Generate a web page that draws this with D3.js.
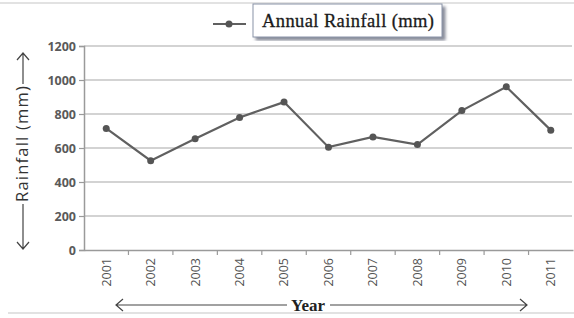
<!DOCTYPE html>
<html>
<head>
<meta charset="utf-8">
<script src="https://cdn.jsdelivr.net/npm/d3@7"></script>
<style>
  body { margin: 0; background: #fff; }
  svg { display: block; }
</style>
</head>
<body>
<svg id="chart" width="574" height="318"></svg>
<script>
// data
var years = ["2001", "2002", "2003", "2004", "2005", "2006", "2007", "2008", "2009", "2010", "2011"];
var rainfall = [715, 525, 655, 780, 870, 605, 665, 620, 820, 960, 705];
var yTicks = [0, 200, 400, 600, 800, 1000, 1200];

var svg = d3.select("#chart");
var margin = { left: 84, right: 1, top: 46, bottom: 68 };
var width = 574 - margin.left - margin.right,
  height = 318 - margin.top - margin.bottom;

var x = d3.scaleBand().domain(years).range([margin.left, margin.left + width]);
var y = d3.scaleLinear().domain([0, 1200]).range([margin.top + height, margin.top]);

var defs = svg.append("defs");
defs.append("filter").attr("id", "shadow")
  .append("feDropShadow")
  .attr("dx", 3).attr("dy", 3).attr("stdDeviation", 1.5)
  .attr("flood-color", "#6a7080").attr("flood-opacity", 0.8);

// frame lines at top and bottom
svg.append("line").attr("x1", 0).attr("x2", 574).attr("y1", 3).attr("y2", 3)
  .attr("stroke", "#d8d8d8").attr("stroke-width", 1.5);
svg.append("line").attr("x1", 8).attr("x2", 574).attr("y1", 313).attr("y2", 313)
  .attr("stroke", "#d8d8d8").attr("stroke-width", 1.5);

// gridlines
svg.append("g")
  .selectAll("line")
  .data(yTicks.slice(1))
  .enter()
  .append("line")
  .attr("x1", margin.left).attr("x2", 572)
  .attr("y1", function(d) { return y(d); })
  .attr("y2", function(d) { return y(d); })
  .attr("stroke", "#a8a8a8").attr("stroke-width", 1.2);

// y axis
var yAxis = svg.append("g")
  .attr("transform", "translate(" + margin.left + ",0)")
  .call(d3.axisLeft(y).tickValues(yTicks).tickFormat(d3.format("d")).tickSize(5).tickPadding(3));
yAxis.select(".domain").attr("stroke", "#9a9a9a").attr("stroke-width", 1.5);
yAxis.selectAll(".tick line").attr("stroke", "#9a9a9a").attr("stroke-width", 1.2);
yAxis.selectAll("text")
  .attr("font-family", "'Open Sans', sans-serif")
  .attr("font-size", 12.5).attr("font-weight", "bold").attr("fill", "#5a5a5a");

// x axis
var xAxis = svg.append("g")
  .attr("transform", "translate(0," + (margin.top + height) + ")")
  .call(d3.axisBottom(x).tickSize(0).tickPadding(0));
xAxis.select(".domain").attr("stroke", "#9a9a9a").attr("stroke-width", 1.5);
xAxis.selectAll("text")
  .attr("transform", "rotate(-90)")
  .attr("text-anchor", "end")
  .attr("x", -8).attr("y", 0).attr("dy", "0.35em")
  .attr("font-family", "'Open Sans', sans-serif")
  .attr("font-size", 12.5).attr("fill", "#555");
// ticks between categories
xAxis.selectAll(".sep")
  .data(years.slice(1))
  .enter()
  .append("line")
  .attr("x1", function(d) { return x(d); })
  .attr("x2", function(d) { return x(d); })
  .attr("y1", 0).attr("y2", 5)
  .attr("stroke", "#9a9a9a").attr("stroke-width", 1.2);

// series line
var line = d3.line()
  .x(function(d, i) { return x(years[i]) + x.bandwidth() / 2; })
  .y(function(d) { return y(d); });

svg.append("path")
  .datum(rainfall)
  .attr("d", line)
  .attr("fill", "none")
  .attr("stroke", "#606060")
  .attr("stroke-width", 2.2);

svg.append("g")
  .selectAll("circle")
  .data(rainfall)
  .enter()
  .append("circle")
  .attr("cx", function(d, i) { return x(years[i]) + x.bandwidth() / 2; })
  .attr("cy", function(d) { return y(d); })
  .attr("r", 3.5)
  .attr("fill", "#555");

// legend
var lg = svg.append("g");
lg.append("line").attr("x1", 213).attr("x2", 246).attr("y1", 24).attr("y2", 24)
  .attr("stroke", "#606060").attr("stroke-width", 2.2);
lg.append("circle").attr("cx", 229).attr("cy", 24).attr("r", 3.5).attr("fill", "#555");
lg.append("rect").attr("x", 253).attr("y", 4).attr("width", 189).attr("height", 33)
  .attr("fill", "#fff").attr("stroke", "#8a93a8").attr("stroke-width", 1)
  .attr("filter", "url(#shadow)");
lg.append("text").attr("x", 262).attr("y", 27)
  .attr("font-family", "'Liberation Serif', serif")
  .attr("font-size", 18.5).attr("fill", "#1a1a1a")
  .attr("stroke", "#1a1a1a").attr("stroke-width", 0.3)
  .attr("textLength", 172)
  .text("Annual Rainfall (mm)");

// y title with arrows
var arrowY = 23;
var yt = svg.append("g").attr("stroke", "#444").attr("stroke-width", 1.2).attr("fill", "none");
yt.append("path").attr("d", "M" + arrowY + ",84 V53 M" + (arrowY - 6) + ",60 L" + arrowY + ",53 L" + (arrowY + 6) + ",60");
yt.append("path").attr("d", "M" + arrowY + ",204 V249 M" + (arrowY - 6) + ",242 L" + arrowY + ",249 L" + (arrowY + 6) + ",242");
svg.append("text")
  .attr("transform", "translate(" + (arrowY + 5) + ",144) rotate(-90)")
  .attr("text-anchor", "middle")
  .attr("font-family", "'Open Sans', sans-serif")
  .attr("font-size", 16.5).attr("fill", "#333")
  .attr("textLength", 116)
  .text("Rainfall (mm)");

// x title with arrows
var xt = svg.append("g").attr("stroke", "#444").attr("stroke-width", 1.2).attr("fill", "none");
xt.append("path").attr("d", "M287,305 H116 M123,299 L116,305 L123,311");
xt.append("path").attr("d", "M330,305 H527 M520,299 L527,305 L520,311");
svg.append("text")
  .attr("x", 308).attr("y", 311)
  .attr("text-anchor", "middle")
  .attr("font-family", "'Liberation Serif', serif")
  .attr("font-size", 17).attr("font-weight", "bold").attr("fill", "#222")
  .text("Year");
</script>
</body>
</html>
